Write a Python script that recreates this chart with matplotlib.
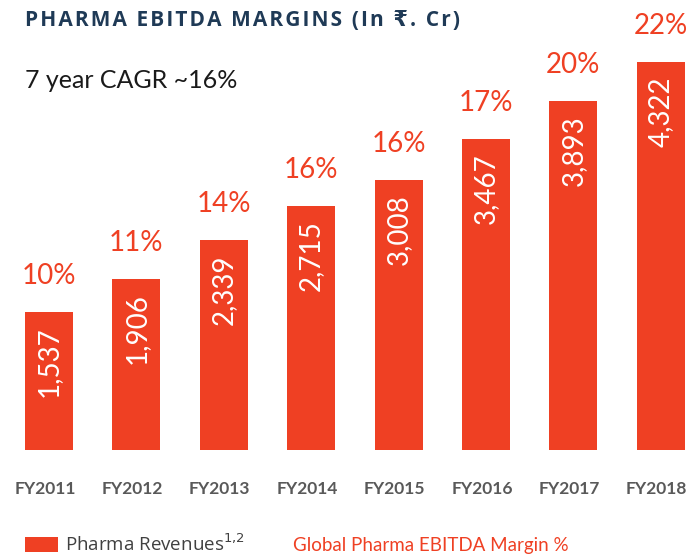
import matplotlib
matplotlib.use('Agg')
import matplotlib.pyplot as plt
from matplotlib.transforms import ScaledTranslation

plt.rcParams['font.family'] = ['Lato', 'DejaVu Sans']

years = ['FY2011', 'FY2012', 'FY2013', 'FY2014', 'FY2015', 'FY2016', 'FY2017', 'FY2018']
revenues = [1537, 1906, 2339, 2715, 3008, 3467, 3893, 4322]
margins = [10, 11, 14, 16, 16, 17, 20, 22]

bar_color = '#EF4023'
title_color = '#1F3A56'

fig = plt.figure(figsize=(6.9, 5.58), dpi=100)
ax = fig.add_axes([0, 1 - 450/558, 1, 450/558])

x = list(range(len(years)))
bars = ax.bar(x, revenues, width=0.55, color=bar_color, label='Pharma Revenues$^{1{,}2}$')
ax.set_xlim(-49/87.4, (690 - 49)/87.4)
ax.set_ylim(0, 5013)

for xi, v, m in zip(x, revenues, margins):
    ax.text(xi, v - 160, f'{v:,}', rotation=90, ha='center', va='top',
            color='white', fontsize=20)
    ax.text(xi, v + 310, f'{m}%', ha='center', va='baseline',
            color=bar_color, fontsize=20)

for s in ax.spines.values():
    s.set_visible(False)
ax.set_yticks([])
ax.set_xticks(x)
ax.set_xticklabels(years, fontsize=12.5, fontweight='bold', color='#595959')
ax.tick_params(axis='x', length=0, pad=22)
shift = ScaledTranslation(-4/100, 0, fig.dpi_scale_trans)
for lbl in ax.get_xticklabels():
    lbl.set_transform(lbl.get_transform() + shift)

# spaced-out title like the slide
title = '\u200a'.join('PHARMA EBITDA MARGINS (In \u20b9. Cr)')
fig.text(25/690, 1 - 20/558, title, fontsize=15, fontweight='bold',
         family=['Open Sans', 'DejaVu Sans'], color=title_color,
         va='center', ha='left')
fig.text(25/690, 1 - 80/558, '7 year CAGR ~16%', fontsize=18, color='#1a1a1a',
         va='center', ha='left')

leg = fig.legend(handles=[bars], loc='center left',
                 bbox_to_anchor=(8/690, 1 - 544/558), frameon=False,
                 prop={'family': ['Open Sans', 'DejaVu Sans'], 'size': 13.5},
                 labelcolor='#404040', handlelength=1.75, handleheight=0.85,
                 handletextpad=0.4)
fig.text(293/690, 1 - 545/558, 'Global Pharma EBITDA Margin %', fontsize=13.5,
         color=bar_color, va='center', ha='left')

fig.savefig('out.png', dpi=100)
